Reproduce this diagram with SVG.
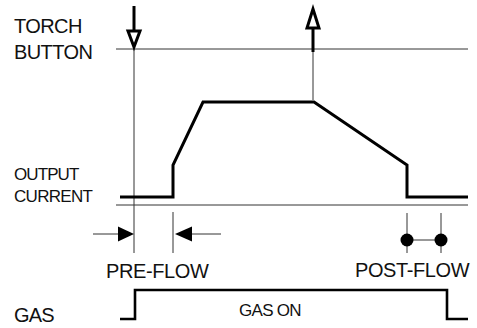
<svg xmlns="http://www.w3.org/2000/svg" width="477" height="328" viewBox="0 0 477 328">
<style>
text{font-family:"Liberation Sans",Arial,sans-serif;fill:#111}
.thin{stroke:#333;stroke-width:1;fill:none}
.thick{stroke:#000;stroke-width:3;fill:none;stroke-linejoin:miter}
.hollow{stroke:#000;stroke-width:3;fill:#fff;stroke-linejoin:miter}
.solid{fill:#000;stroke:none}
</style>
<rect width="477" height="328" fill="#fff"/>
<g id="labels">
<text x="14" y="33" font-size="20" letter-spacing="-0.6">TORCH</text>
<text x="14" y="59" font-size="20" letter-spacing="-0.6">BUTTON</text>
<text x="14" y="180" font-size="17" letter-spacing="-0.9">OUTPUT</text>
<text x="14" y="202" font-size="17" letter-spacing="-0.7">CURRENT</text>
<text x="106" y="278" font-size="20" letter-spacing="-0.4">PRE-FLOW</text>
<text x="355" y="277" font-size="20" letter-spacing="-0.4">POST-FLOW</text>
<text x="14" y="322" font-size="20" letter-spacing="-0.8">GAS</text>
<text x="239" y="316" font-size="17" letter-spacing="-0.7">GAS ON</text>
</g>
<g id="axes">
<line class="thin" x1="116" y1="49" x2="468" y2="49"/>
<line class="thin" x1="116" y1="205" x2="468" y2="205"/>
</g>
<g id="connectors">
<line class="thin" x1="134" y1="49" x2="134" y2="253"/>
<line class="thin" x1="313" y1="52" x2="313" y2="100"/>
<line class="thin" x1="173" y1="212" x2="173" y2="253"/>
<line class="thin" x1="407" y1="213" x2="407" y2="253"/>
<line class="thin" x1="441" y1="213" x2="441" y2="253"/>
<line class="thin" x1="407" y1="240" x2="441" y2="240"/>
</g>
<g id="torch-press">
<line class="thick" x1="134" y1="6" x2="134" y2="30"/>
<path class="hollow" d="M128,31 H140 L134,47 Z"/>
</g>
<g id="torch-release">
<line class="thick" x1="313" y1="28" x2="313" y2="52"/>
<path class="hollow" d="M307,28 H319 L313,9 Z"/>
</g>
<g id="output-current">
<path class="thick" d="M120,197 H173 V165 L203,102 H314 L407,165 V197 H468"/>
</g>
<g id="pre-flow">
<line class="thin" x1="93" y1="234" x2="120" y2="234"/>
<path class="solid" d="M118,226.5 L134,234 L118,241.5 Z"/>
<line class="thin" x1="190" y1="234" x2="221" y2="234"/>
<path class="solid" d="M192,226.5 L175,234 L192,241.5 Z"/>
</g>
<g id="post-flow">
<circle class="solid" cx="407" cy="240" r="6.5"/>
<circle class="solid" cx="441" cy="240" r="6.5"/>
</g>
<g id="gas">
<path class="thick" style="stroke-width:2.6" d="M120,319 H135 V290 H447 V319 H468"/>
</g>
</svg>
